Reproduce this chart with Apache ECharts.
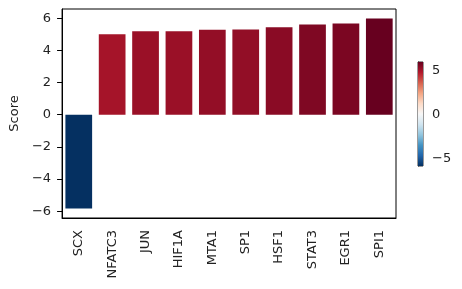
<!DOCTYPE html>
<html><head><meta charset="utf-8">
<script src="https://cdn.jsdelivr.net/npm/echarts@6/dist/echarts.min.js"></script>
<style>html,body{margin:0;padding:0;background:#fff}#c{width:462px;height:289px}</style>
</head><body><div id="c"></div>
<script>
const categories = ['SCX','NFATC3','JUN','HIF1A','MTA1','SP1','HSF1','STAT3','EGR1','SPI1'];
const scores = [-5.83, 5.0, 5.18, 5.18, 5.28, 5.3, 5.43, 5.6, 5.67, 5.98];
const yTicks = [-6, -4, -2, 0, 2, 4, 6];
const cbarTicks = [-5, 0, 5];
const cmap = ['#053061','#2166ac','#4393c3','#92c5de','#d1e5f0','#f7f7f7','#fddbc7','#f4a582','#d6604d','#b2182b','#67001f'];

const vmin = Math.min(...scores), vmax = Math.max(...scores);
const pad = (vmax - vmin) * 0.05;
const minus = v => String(v).replace('-', '\u2212');
const font = 'DejaVu Sans';
const fs = 13;

const chart = echarts.init(document.getElementById('c'), null, {renderer: 'canvas'});
chart.setOption({
  animation: false,
  backgroundColor: '#fff',
  textStyle: {fontFamily: font},
  grid: [
    {left: 60, right: 66, top: 9, bottom: 71, show: true, borderColor: '#000', borderWidth: 1, backgroundColor: 'transparent'},
    {left: 418, width: 5, top: 62, bottom: 289 - 166, show: true, borderColor: '#000', borderWidth: 0.8}
  ],
  xAxis: [
    {type: 'category', data: categories, gridIndex: 0,
     axisLine: {onZero: false, lineStyle: {color: '#000', width: 1}},
     axisTick: {alignWithLabel: true, length: 5, lineStyle: {color: '#000'}},
     axisLabel: {rotate: 90, margin: 12, color: '#222', fontSize: fs, fontFamily: font, interval: 0}},
    {type: 'value', gridIndex: 1, min: 0, max: 1, show: false}
  ],
  yAxis: [
    {type: 'value', gridIndex: 0, min: vmin - pad, max: vmax + pad,
     name: 'Score', nameLocation: 'middle', nameGap: 34,
     nameTextStyle: {color: '#222', fontSize: fs, fontFamily: font},
     axisLine: {show: true, onZero: false, lineStyle: {color: '#000', width: 1}},
     axisTick: {show: true, length: 5, customValues: yTicks, lineStyle: {color: '#000'}},
     axisLabel: {customValues: yTicks, margin: 11, color: '#222', fontSize: fs, fontFamily: font, formatter: minus},
     splitLine: {show: false}},
    {type: 'value', gridIndex: 1, min: vmin, max: vmax, position: 'right',
     axisLine: {show: true, lineStyle: {color: '#000', width: 0.8}},
     axisTick: {show: true, length: 4, customValues: cbarTicks, lineStyle: {color: '#000'}},
     axisLabel: {customValues: cbarTicks, margin: 9, color: '#222', fontSize: fs, fontFamily: font, formatter: minus},
     splitLine: {show: false}}
  ],
  visualMap: {type: 'continuous', show: false, seriesIndex: 0, dimension: 1, min: vmin, max: vmax, inRange: {color: cmap}},
  series: [
    {type: 'bar', xAxisIndex: 0, yAxisIndex: 0, data: scores, barCategoryGap: '20%'},
    {type: 'custom', xAxisIndex: 1, yAxisIndex: 1, data: [[0, vmin, vmax]], silent: true,
     renderItem: function (params, api) {
       const p1 = api.coord([0, api.value(2)]);
       const p2 = api.coord([1, api.value(1)]);
       const stops = cmap.map((c, i) => ({offset: 1 - i / (cmap.length - 1), color: c}));
       return {type: 'rect', shape: {x: p1[0], y: p1[1], width: p2[0] - p1[0], height: p2[1] - p1[1]},
               style: {fill: new echarts.graphic.LinearGradient(0, 0, 0, 1, stops)}};
     }}
  ]
});
</script></body></html>
